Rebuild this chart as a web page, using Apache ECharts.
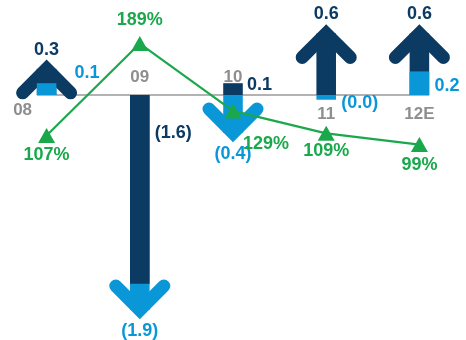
<!DOCTYPE html>
<html>
<head>
<meta charset="utf-8">
<script src="https://cdn.jsdelivr.net/npm/echarts@6.0.0/dist/echarts.min.js"></script>
<style>
  html, body { margin: 0; padding: 0; background: #ffffff; }
  #chart { width: 466px; height: 340px; }
</style>
</head>
<body>
<div id="chart"></div>
<script>
// ---- data ----
const categories = ['08', '09', '10', '11', '12E'];
const navyValues = [0.3, -1.6, 0.1, 0.6, 0.6];
const blueValues = [0.1, -1.9, -0.4, -0.04, 0.2];
const ratioValues = [107, 189, 129, 109, 99];

// ---- styles ----
const NAVY = '#0b3a63';
const BLUE = '#0a97d8';
const GREEN = '#1ba84c';
const GREY = '#8e8e8e';
const FONT = 'bold 18px "Liberation Sans", Arial, sans-serif';
const CAT_FONT = 'bold 17px "Liberation Sans", Arial, sans-serif';
// label nudges (pixels) — styling only
const rectLabelOffset = [[28, -22], [15, 38], [14, -10], [15, 8], [15, -9]];
const catLabelOffset = [[-24, -4], [0, 1], [0, 1], [0, 0], [0, 0]];
const ratioLabelOffset = [[0, 19], [0, -24], [33, 33], [0, 18], [0, 20]];

function fmt(v) {
  return v < 0 ? '(' + Math.abs(v).toFixed(1) + ')' : v.toFixed(1);
}

function renderBars(params, api) {
  const i = api.value(0);
  const n = api.value(1);
  const b = api.value(2);
  const zero = api.coord([i, 0]);
  const cx = zero[0], zy = zero[1];
  const band = api.size([1, 0])[0];
  const half = band * 0.105;
  const bigIsNavy = Math.abs(n) >= Math.abs(b);
  const big = bigIsNavy ? n : b;
  const small = bigIsNavy ? b : n;
  const bigColor = bigIsNavy ? NAVY : BLUE;
  const smallColor = bigIsNavy ? BLUE : NAVY;
  const tip = api.coord([i, big])[1];
  const dir = big >= 0 ? -1 : 1;
  const w = 13, L = 24;
  const apexY = tip - dir * (w / 2) * Math.SQRT2;
  const sy = api.coord([i, small])[1];
  const children = [];
  // shaft
  children.push({
    type: 'rect',
    shape: { x: cx - half, y: Math.min(zy, apexY), width: half * 2, height: Math.abs(apexY - zy) },
    style: { fill: bigColor }
  });
  // chevron
  children.push({
    type: 'polyline',
    shape: { points: [[cx - L, apexY - dir * L], [cx, apexY], [cx + L, apexY - dir * L]] },
    style: { stroke: bigColor, lineWidth: w, lineCap: 'round', lineJoin: 'miter', fill: 'none' }
  });
  // smaller bar drawn on top
  children.push({
    type: 'rect',
    shape: { x: cx - half, y: Math.min(zy, sy), width: half * 2, height: Math.abs(sy - zy) },
    style: { fill: smallColor }
  });
  // arrow value label
  children.push({
    type: 'text',
    style: {
      text: fmt(big), x: cx, y: tip + dir * (dir < 0 ? 10 : 12),
      fill: bigColor, font: FONT, align: 'center', verticalAlign: 'middle'
    }
  });
  // rect value label
  const ro = rectLabelOffset[i];
  children.push({
    type: 'text',
    style: {
      text: fmt(small), x: cx + ro[0], y: zy + ro[1],
      fill: smallColor, font: FONT, align: 'left', verticalAlign: 'middle'
    }
  });
  // category label on opposite side of the arrow
  const co = catLabelOffset[i];
  children.push({
    type: 'text',
    style: {
      text: categories[i], x: cx + co[0], y: zy - dir * 19 + co[1],
      fill: GREY, font: CAT_FONT, align: 'center', verticalAlign: 'middle'
    }
  });
  return { type: 'group', children: children };
}

function renderBaseline(params, api) {
  const first = api.coord([0, 0]);
  const last = api.coord([categories.length - 1, 0]);
  const half = api.size([1, 0])[0] * 0.105;
  return {
    type: 'line',
    shape: { x1: first[0] - half, y1: first[1], x2: last[0] + half, y2: last[1] },
    style: { stroke: '#9a9a9a', lineWidth: 1.5 }
  };
}

const chart = echarts.init(document.getElementById('chart'), null, { renderer: 'canvas' });
chart.setOption({
  animation: false,
  backgroundColor: '#ffffff',
  grid: { left: -4, right: -10, top: 0.6, bottom: 9 },
  xAxis: { type: 'category', data: categories, show: false, boundaryGap: true },
  yAxis: [
    { type: 'value', min: -2, max: 0.8, show: false },
    { type: 'value', min: -67.2, max: 227.3, show: false }
  ],
  series: [
    {
      type: 'custom',
      renderItem: renderBaseline,
      data: [[0, 0]],
      silent: true,
      z: 1
    },
    {
      type: 'custom',
      renderItem: renderBars,
      data: categories.map((c, i) => [i, navyValues[i], blueValues[i]]),
      encode: { x: 0, y: [1, 2] },
      silent: true,
      z: 2
    },
    {
      type: 'line',
      yAxisIndex: 1,
      z: 3,
      symbol: 'triangle',
      symbolSize: [17, 15],
      itemStyle: { color: GREEN },
      lineStyle: { color: GREEN, width: 2.2 },
      label: {
        show: true,
        position: 'inside',
        formatter: '{c}%',
        color: GREEN,
        fontFamily: '"Liberation Sans", Arial, sans-serif',
        fontWeight: 'bold',
        fontSize: 18
      },
      data: ratioValues.map((v, i) => ({ value: v, label: { offset: ratioLabelOffset[i] } }))
    }
  ]
});
</script>
</body>
</html>
